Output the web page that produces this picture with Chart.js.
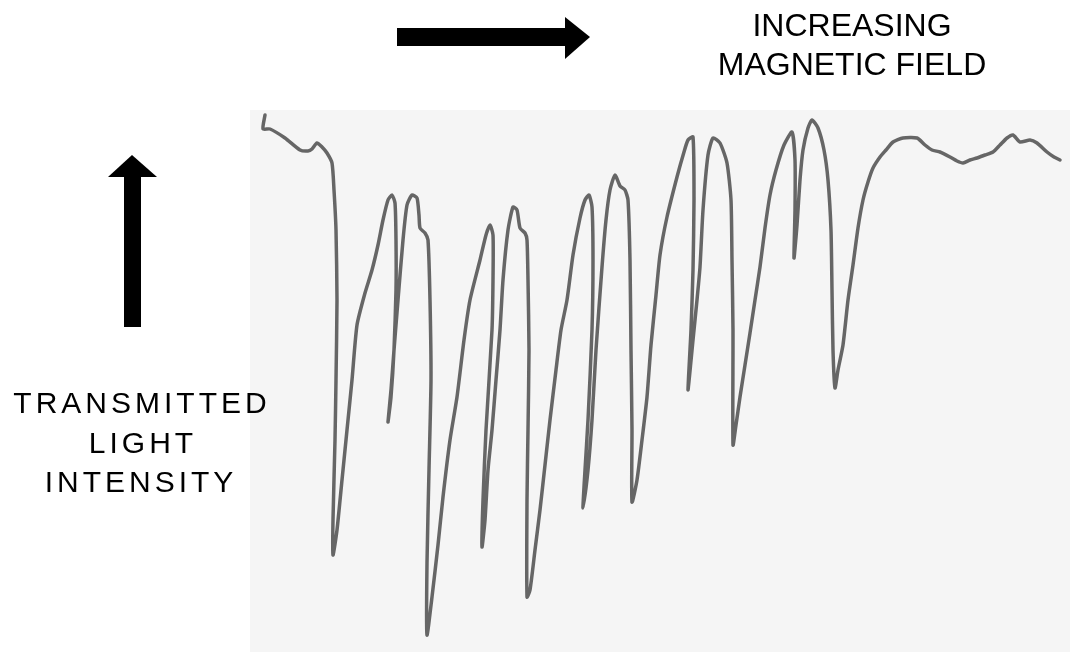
<!DOCTYPE html>
<html lang="en">
<head>
<meta charset="UTF-8">
<title>Transmitted light vs magnetic field</title>
<script src="https://cdn.jsdelivr.net/npm/chart.js"></script>
<style>
body{margin:0;background:#fff;}
#wrap{width:1070px;height:652px;position:relative;}
</style>
</head>
<body>
<div id="wrap"><canvas id="trace"></canvas></div>
<script>
// recorder trace (arbitrary units)
const field = [
  15,13,20,35,50,58,62,67,72,77,82,84,86,87,86,85,83,83,87,92,97,102,107,115,122,128,133,138,142,145,146,146,144,141,138,
  141,144,148,153,157,162,167,169,170,175,178,180,181,179,177,177,182,188,193,200,207,214,220,230,236,240,243,243,242,236,233,232,
  235,238,242,246,250,253,258,263,267,270,275,277,278,279,278,277,277,280,285,290,295,300,306,311,317,323,330,335,339,342,343,342,338,335,333,
  338,342,346,352,356,360,365,370,375,378,380,381,382,382,387,392,397,401,406,410,417,427,434,438,443,444,443,441,438,
  443,447,450,453,458,463,470,477,481,482,483,483,486,490,495,500,505,510,515,520,526,534,542,545,545,544,
  547,550,553,558,562,568,574,578,581,582,583,585,588,593,598,603,608,613,618,623,630,636,643,653,667,675,682,690,700,707,713,
  720,727,735,743,750,757,763,770,780,787,797,804,810
];
const intensity = [
  537,523,523,514,502,501,503,509,505,499,489,462,422,352,272,212,132,97,122,172,222,272,327,359,382,407,432,452,457,449,412,362,302,255,230,
  262,302,352,412,447,457,454,437,424,419,412,352,272,182,89,17,55,107,155,212,255,312,352,392,417,427,417,372,322,222,152,105,
  132,182,222,272,322,372,422,445,442,424,419,412,372,302,222,152,55,62,102,142,187,232,282,322,352,397,434,452,457,445,392,322,232,182,144,
  182,232,302,385,432,462,477,466,462,452,392,302,222,150,172,212,255,307,357,397,435,475,500,512,515,452,382,322,262,
  312,352,385,442,497,514,509,489,452,392,322,207,227,255,287,319,352,385,424,457,482,507,520,492,442,394,
  427,472,502,524,532,524,502,472,422,362,302,264,282,307,352,387,424,452,470,484,495,502,510,514,514,507,502,500,495,491,489,
  492,494,497,500,507,514,517,510,512,509,500,495,492
];

const points = field.map((f, i) => ({x: f, y: intensity[i]}));

// paper, arrows and captions
const paper = {
  id: 'paper',
  beforeDraw(chart) {
    const {ctx, chartArea: a} = chart;
    ctx.save();
    ctx.fillStyle = '#f5f5f5';
    ctx.fillRect(a.left, a.top, a.right - a.left, a.bottom - a.top);
    ctx.restore();
  },
  afterDraw(chart) {
    const ctx = chart.ctx;
    ctx.save();
    ctx.fillStyle = '#000';
    // field arrow
    ctx.fillRect(397, 28, 168, 18);
    ctx.beginPath(); ctx.moveTo(565, 17); ctx.lineTo(590, 37); ctx.lineTo(565, 59); ctx.closePath(); ctx.fill();
    // intensity arrow
    ctx.fillRect(124, 176, 17, 151);
    ctx.beginPath(); ctx.moveTo(108, 177); ctx.lineTo(132, 155); ctx.lineTo(157, 177); ctx.closePath(); ctx.fill();

    ctx.font = '32px "Liberation Sans", Arial, sans-serif';
    ctx.textAlign = 'center';
    ctx.textBaseline = 'alphabetic';
    ctx.fillText('INCREASING', 852, 36);
    ctx.fillText('MAGNETIC FIELD', 852, 75);

    ctx.font = '30px "Liberation Sans", Arial, sans-serif';
    spaced(ctx, 'TRANSMITTED', 140, 413, 4);
    spaced(ctx, 'LIGHT', 141, 453, 4);
    spaced(ctx, 'INTENSITY', 139, 492, 4);
    ctx.restore();
  }
};

function spaced(ctx, text, cx, y, gap) {
  const w = [...text].map(c => ctx.measureText(c).width);
  const total = w.reduce((s, v) => s + v, 0) + gap * (text.length - 1);
  let x = cx - total / 2;
  ctx.textAlign = 'left';
  [...text].forEach((c, i) => { ctx.fillText(c, x, y); x += w[i] + gap; });
}

new Chart(document.getElementById('trace'), {
  type: 'scatter',
  data: {datasets: [{
    data: points,
    showLine: true,
    borderColor: '#666666',
    borderWidth: 3.5,
    pointRadius: 0,
    tension: 0.2,
    borderJoinStyle: 'round',
    borderCapStyle: 'round'
  }]},
  options: {
    responsive: true,
    maintainAspectRatio: false,
    animation: false,
    layout: {padding: {left: 250, top: 110, right: 0, bottom: 0}},
    plugins: {legend: {display: false}, tooltip: {enabled: false}},
    scales: {
      x: {type: 'linear', min: 0, max: 820, display: false},
      y: {type: 'linear', min: 0, max: 542, display: false}
    }
  },
  plugins: [paper]
});
</script>
</body>
</html>
